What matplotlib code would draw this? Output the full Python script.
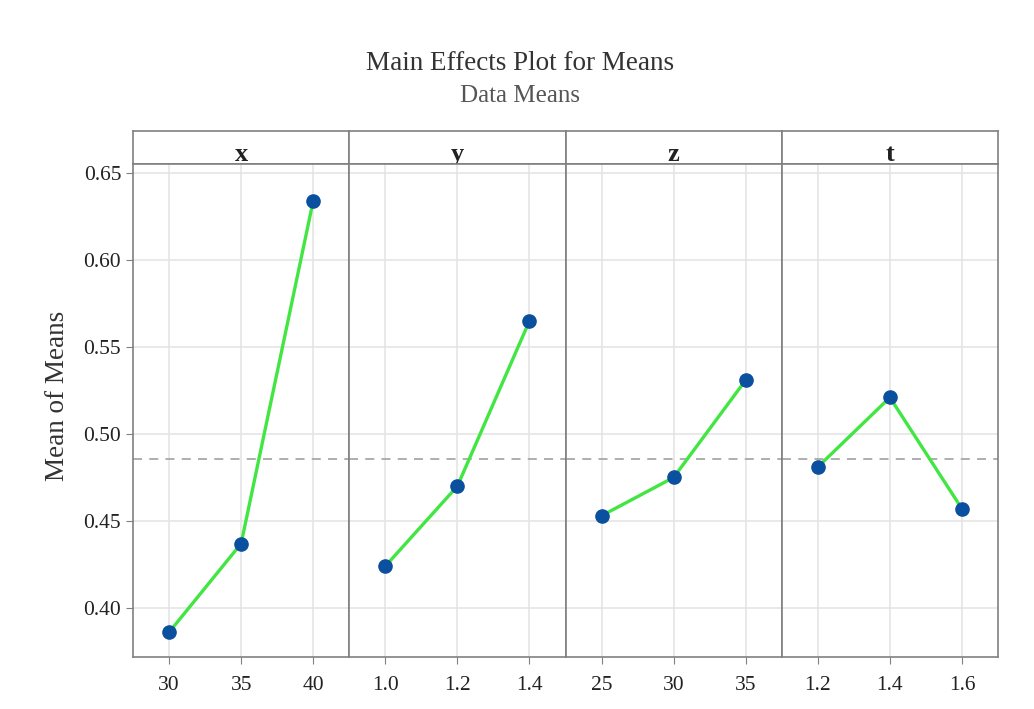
import matplotlib
matplotlib.use("Agg")
import matplotlib.pyplot as plt
import numpy as np

plt.rcParams['font.family'] = ['Liberation Serif', 'DejaVu Serif']

# factor names, levels and means of means
factors = ["x", "y", "z", "t"]
levels_x = [30, 35, 40]
levels_y = [1.0, 1.2, 1.4]
levels_z = [25, 30, 35]
levels_t = [1.2, 1.4, 1.6]
labels_x = ["30", "35", "40"]
labels_y = ["1.0", "1.2", "1.4"]
labels_z = ["25", "30", "35"]
labels_t = ["1.2", "1.4", "1.6"]
means_x = [0.386, 0.437, 0.634]
means_y = [0.424, 0.470, 0.565]
means_z = [0.453, 0.475, 0.531]
means_t = [0.481, 0.521, 0.457]
yticks = [0.40, 0.45, 0.50, 0.55, 0.60, 0.65]

levels = [levels_x, levels_y, levels_z, levels_t]
labels = [labels_x, labels_y, labels_z, labels_t]
means = [means_x, means_y, means_z, means_t]
grand = np.mean(means_x)

W, H = 1034, 709
fig = plt.figure(figsize=(W / 100, H / 100), dpi=100)
gs = fig.add_gridspec(2, 4, left=133 / W, right=998 / W, top=1 - 131 / H, bottom=1 - 657 / H,
                      height_ratios=[33, 493], hspace=0, wspace=0)

frame = "#808080"
green = "#42e642"
blue = "#0b4f9f"
txt = "#222222"

for i in range(4):
    lv = levels[i]
    step = lv[1] - lv[0]
    xlim = (lv[0] - 0.5 * step, lv[-1] + 0.5 * step)

    strip = fig.add_subplot(gs[0, i])
    strip.set_xticks([])
    strip.set_yticks([])
    for s in strip.spines.values():
        s.set_color(frame)
        s.set_linewidth(1.2)
    strip.text(0.5, 0.3, factors[i], transform=strip.transAxes, ha="center", va="center",
               fontsize=19, fontweight="bold", color=txt)

    ax = fig.add_subplot(gs[1, i])
    ax.set_xlim(*xlim)
    ax.set_ylim(0.3718, 0.6552)
    ax.set_xticks(lv)
    ax.set_xticklabels(labels[i])
    ax.set_yticks(yticks)
    ax.grid(True, color="#e3e3e3", linewidth=1.1)
    ax.set_axisbelow(True)
    ax.axhline(grand, color="#a8a8a8", linestyle=(0, (5, 4)), linewidth=1.3, zorder=1)
    ax.plot(lv, means[i], color=green, linewidth=2.4, zorder=2)
    ax.plot(lv, means[i], "o", color=blue, markersize=9.5, zorder=3)
    for s in ax.spines.values():
        s.set_color(frame)
        s.set_linewidth(1.2)
    ax.tick_params(axis="x", direction="out", length=5, color=frame, labelsize=15.5,
                   labelcolor=txt, pad=9)
    if i == 0:
        ax.set_yticklabels(["%.2f" % v for v in yticks])
        ax.tick_params(axis="y", direction="out", length=5, color=frame, labelsize=15.5,
                       labelcolor=txt)
    else:
        ax.tick_params(axis="y", length=0, labelleft=False)

fig.text(58 / W, 1 - 396 / H, "Mean of Means", rotation=90, ha="center", va="center",
         fontsize=19.5, color="#333333")
fig.text(0.503, 1 - 64 / H, "Main Effects Plot for Means", ha="center", va="center",
         fontsize=19.5, color="#333333")
fig.text(0.503, 1 - 96 / H, "Data Means", ha="center", va="center", fontsize=18,
         color="#555555")

fig.savefig("out.png", dpi=100)
